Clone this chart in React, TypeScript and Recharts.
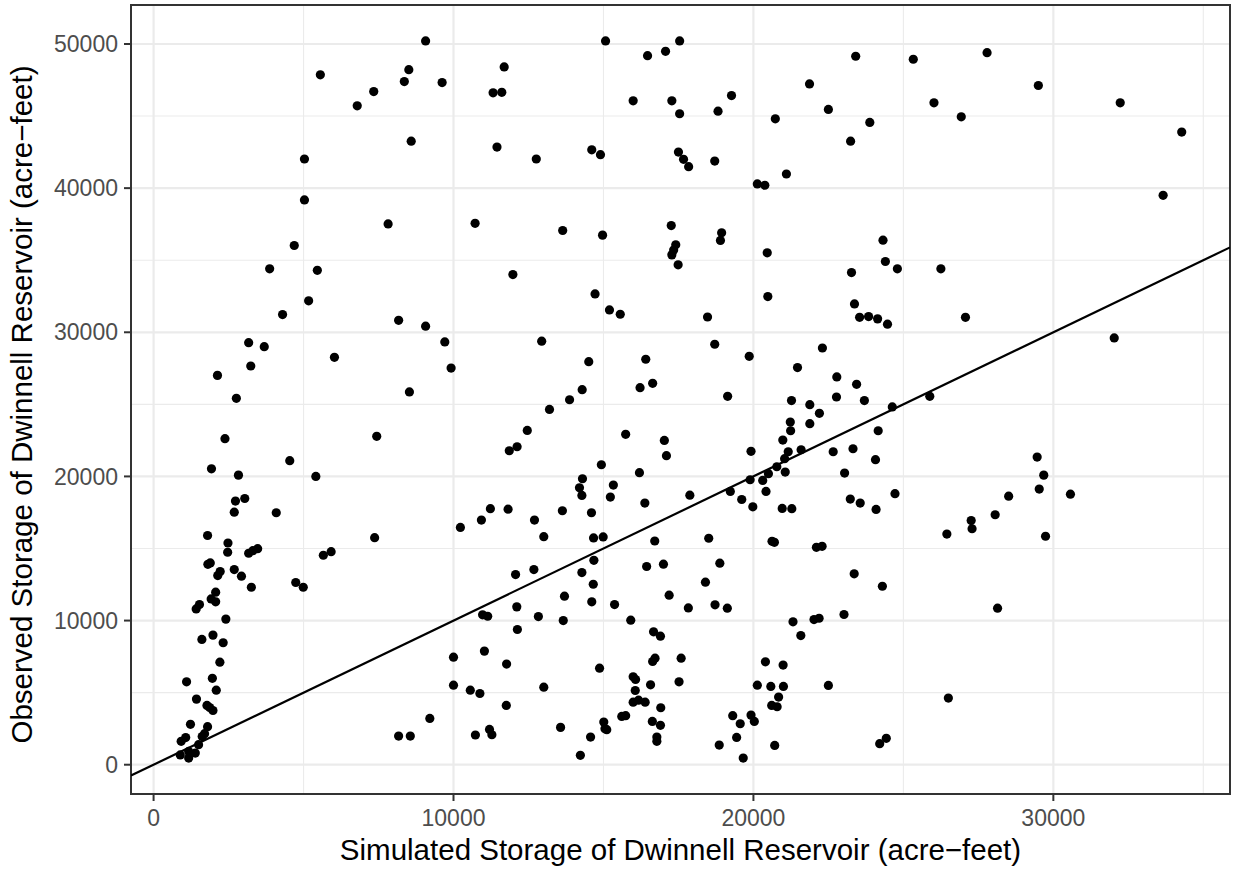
import React from 'react';
import { ScatterChart, Scatter, XAxis, YAxis, CartesianGrid, ReferenceLine, ReferenceArea } from 'recharts';

const FONT = '"Liberation Sans", Arial, Helvetica, sans-serif';

// Simulated storage (x) and observed storage (y), acre-feet, same order
const simulatedStorage: number[] = [
  // low storage cluster and bottom-left
  1800,2480,2470,3170,3310,3470,1810,1890,7370,5660,
  5920,2220,2140,2690,2930,3260,4740,4990,2070,1920,
  2070,1530,1420,2410,1610,1980,2320,2210,1100,1960,
  2090,1430,1780,1870,1980,1230,1800,1700,1620,1070,
  920,1500,1390,1170,1170,890,8170,8560,9210,10000,
  10000,10560,10880,11030,10970,11140,10730,11200,11280,
  // bottom-middle
  13010,14670,14990,16710,18510,20620,20700,22100,22290,12070,
  12680,14680,14280,14660,16440,17000,18880,18400,23360,12110,
  12830,13700,14610,15370,12130,13660,15910,17190,17830,18720,
  19130,21320,22020,22190,23020,21580,16670,16900,11770,14870,
  16640,16720,17590,20400,20990,13010,15990,16070,16570,17520,
  16060,20130,20580,21000,22500,20840,11760,15990,16170,16390,
  16910,20610,20790,15610,15740,15010,15110,15050,16630,16900,
  19310,19920,20030,19560,13570,14570,16780,16780,18860,19440,
  20710,14230,19660,
  // bottom-right
  26450,29740,24300,28140,26500,24210,24430,
  // middle-left
  3870,5460,5170,4300,8170,9070,9710,3170,3690,6030,
  3240,9920,2130,2760,8530,2380,7440,4540,1930,2830,
  5410,2730,3040,2690,4090,10230,10930,11230,
  // middle
  11980,14720,15200,15560,18470,20480,23270,23370,23540,12940,
  14510,16410,18710,19860,22300,21470,22780,23440,23700,14290,
  13870,13200,16220,16640,19140,21270,21880,22770,22200,12460,
  15740,21230,21240,21880,11860,12120,17030,17100,19920,20980,
  21160,21590,22660,23320,21040,20780,14930,16200,21060,23040,
  20500,20310,19890,14300,14200,14280,15330,15230,17880,19230,
  19610,20420,19980,20960,21280,23230,23560,11820,12700,13630,
  14600,16380,
  // middle-right
  24800,26250,23840,24140,24470,27070,32030,24630,25880,24160,
  24070,29460,29680,29530,30570,28510,28060,24720,24090,27260,
  27290,
  // top-left
  9070,8510,8360,9620,5560,7340,6790,11320,8590,11450,
  5030,5030,7820,10720,4690,
  // top-middle
  15070,17540,16470,17070,11690,23410,11610,15990,17280,17540,
  18820,19270,21870,22500,20730,23240,12760,14610,14900,17500,
  17670,17840,18710,21100,20130,20380,13640,14970,17260,17410,
  17340,17280,17490,18940,18900,20460,
  // top-right
  25330,27790,29500,26020,26930,23880,32230,34280,33660,24320,24400,
];

const observedStorage: number[] = [
  // low storage cluster and bottom-left
  15900,15380,14740,14670,14850,14990,13900,14000,15750,14530,
  14780,13400,13120,13540,13080,12310,12640,12310,11970,11500,
  11300,11110,10810,10100,8690,8990,8460,7110,5750,5990,
  5170,4550,4110,3970,3760,2800,2640,2150,1950,1880,
  1620,1390,810,920,460,680,1990,1990,3210,7460,
  5520,5170,4940,7880,10400,10300,2060,2450,2080,
  // bottom-middle
  15820,15730,15800,15520,15710,15500,15430,15080,15150,13190,
  13540,14180,13330,12520,13750,13910,13980,12660,13240,10950,
  10280,11690,11300,11110,9380,10000,10030,11760,10880,11090,
  10860,9910,10070,10160,10420,8960,9220,8920,6980,6700,
  7160,7390,7390,7140,6910,5380,6100,5910,5540,5750,
  5150,5520,5430,5430,5500,4690,4110,4340,4480,4340,
  3950,4110,4020,3350,3400,2960,2430,2500,3000,2730,
  3400,3440,3000,2840,2590,1920,1920,1620,1360,1890,
  1340,650,460,
  // bottom-right
  16000,15850,12380,10860,4620,1460,1830,
  // middle-left
  34400,34300,32180,31230,30830,30420,29330,29280,29000,28260,
  27660,27520,27010,25420,25860,22620,22780,21090,20530,20090,
  20000,18290,18470,17520,17480,16460,16970,17760,
  // middle
  34000,32660,31550,31250,31060,32480,34140,31970,31040,29380,
  27960,28130,29170,28330,28910,27550,26900,26390,25260,26020,
  25320,24650,26160,26460,25560,25260,24980,25510,24380,23190,
  22920,23770,23170,23660,21780,22060,22500,21440,21740,22520,
  21710,21850,21710,21920,21230,20670,20810,20260,20300,20230,
  20190,19720,19770,19840,19210,18680,19400,18570,18700,18960,
  18400,18960,17890,17780,17760,18430,18150,17730,16970,17620,
  17480,18150,
  // middle-right
  34400,34400,31090,30930,30560,31040,29610,24820,25560,23170,
  21160,21340,20090,19120,18770,18630,17340,18800,17710,16940,
  16370,
  // top-left
  50210,48220,47390,47320,47860,46700,45710,46610,43260,42850,
  42020,39180,37520,37560,36020,
  // top-middle
  50210,50210,49190,49490,48410,49150,46650,46060,46060,45160,
  45340,46420,47230,45460,44810,43260,42020,42660,42320,42500,
  42000,41490,41880,40980,40290,40200,37060,36740,37400,36070,
  35700,35370,34680,36900,36370,35510,
  // top-right
  48940,49400,47120,45920,44950,44560,45920,43890,39500,36390,34910,
];

const xTicks = [0, 10000, 20000, 30000];
const yTicks = [0, 10000, 20000, 30000, 40000, 50000];
const xMinorGrid = [5000, 15000, 25000, 35000];
const yMinorGrid = [5000, 15000, 25000, 35000, 45000];
const X_DOMAIN: [number, number] = [-753, 35890];
const Y_DOMAIN: [number, number] = [-2032, 52705];

const X_TITLE = 'Simulated Storage of Dwinnell Reservoir (acre\u2212feet)';
const Y_TITLE = 'Observed Storage of Dwinnell Reservoir (acre\u2212feet)';

const points = simulatedStorage.map((x, i) => ({ x, y: observedStorage[i] }));

const XTitle = (props: any) => {
  const vb = props.viewBox || { x: 131, y: 794, width: 1099, height: 77 };
  return (
    <text x={vb.x + vb.width / 2} y={vb.y + 66} textAnchor="middle" fontSize={29.5} fill="#000000" fontFamily={FONT}>
      {X_TITLE}
    </text>
  );
};

const YTitle = (props: any) => {
  const vb = props.viewBox || { x: 0, y: 5, width: 131, height: 789 };
  const cx = vb.x + 32;
  const cy = vb.y + vb.height / 2 + 5;
  return (
    <text x={cx} y={cy} textAnchor="middle" fontSize={29.5} fill="#000000" fontFamily={FONT} transform={`rotate(-90, ${cx}, ${cy})`}>
      {Y_TITLE}
    </text>
  );
};

const Dot = (props: any) => {
  const { cx, cy } = props;
  if (cx == null || cy == null) return null;
  return <circle cx={cx} cy={cy} r={4.6} fill="#000000" />;
};

const tickStyle = { fill: '#4D4D4D', fontSize: 23, fontFamily: FONT };

export default function App() {
  return (
    <div style={{ position: 'absolute', left: 0, top: 0, width: 1235, height: 871, background: '#FFFFFF' }}>
      <ScatterChart width={1235} height={871} margin={{ top: 5, right: 5, bottom: 0, left: 0 }}>
        <CartesianGrid stroke="#EBEBEB" strokeWidth={1.1} verticalValues={xMinorGrid} horizontalValues={yMinorGrid} />
        <CartesianGrid stroke="#EBEBEB" strokeWidth={2.2} verticalValues={xTicks} horizontalValues={yTicks} />
        <XAxis
          dataKey="x"
          type="number"
          domain={X_DOMAIN}
          allowDataOverflow
          ticks={xTicks}
          interval={0}
          height={77}
          axisLine={false}
          tickSize={7}
          tickMargin={9}
          tickLine={{ stroke: '#333333', strokeWidth: 2 }}
          tick={tickStyle}
          label={<XTitle />}
        />
        <YAxis
          dataKey="y"
          type="number"
          domain={Y_DOMAIN}
          allowDataOverflow
          ticks={yTicks}
          interval={0}
          width={131}
          axisLine={false}
          tickSize={7}
          tickMargin={6}
          tickLine={{ stroke: '#333333', strokeWidth: 2 }}
          tick={tickStyle}
          label={<YTitle />}
        />
        <Scatter data={points} isAnimationActive={false} shape={<Dot />} fill="#000000" />
        <ReferenceLine
          segment={[{ x: X_DOMAIN[0], y: X_DOMAIN[0] }, { x: X_DOMAIN[1], y: X_DOMAIN[1] }]}
          stroke="#000000"
          strokeWidth={2.2}
          ifOverflow="hidden"
        />
        <ReferenceArea
          x1={X_DOMAIN[0]}
          x2={X_DOMAIN[1]}
          y1={Y_DOMAIN[0]}
          y2={Y_DOMAIN[1]}
          fill="none"
          fillOpacity={0}
          stroke="#333333"
          strokeWidth={2}
          ifOverflow="visible"
        />
      </ScatterChart>
    </div>
  );
}
